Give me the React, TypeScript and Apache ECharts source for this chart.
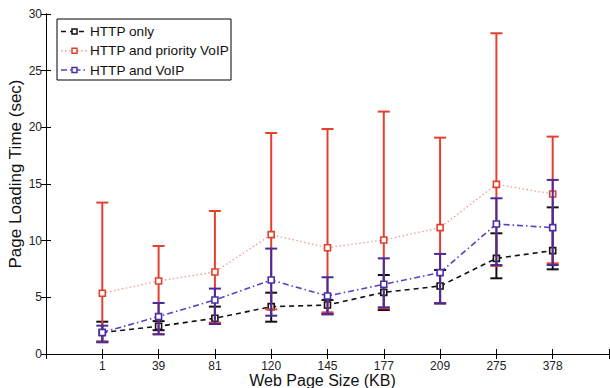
import React, { useEffect, useRef } from "react";
import * as echarts from "echarts";

const categories = ["1", "39", "81", "120", "145", "177", "209", "275", "378"];
const seriesNames = ["HTTP only", "HTTP and priority VoIP", "HTTP and VoIP"];

const httpOnly = [1.9, 2.45, 3.15, 4.18, 4.32, 5.44, 6.0, 8.44, 9.12];
const httpOnlyLow = [1.1, 2.1, 2.65, 2.85, 3.5, 3.88, 4.47, 6.68, 7.47];
const httpOnlyHigh = [2.85, 2.9, 4.18, 5.41, 4.77, 6.97, 7.41, 10.65, 12.94];

const priorityVoip = [5.36, 6.44, 7.24, 10.53, 9.38, 10.06, 11.15, 14.97, 14.12];
const priorityLow = [1.06, 1.74, 2.77, 3.94, 3.67, 4.03, 4.47, 7.77, 8.0];
const priorityHigh = [13.36, 9.53, 12.62, 19.5, 19.85, 21.39, 19.09, 28.3, 19.18];

const voip = [1.9, 3.3, 4.77, 6.53, 5.12, 6.15, 7.18, 11.47, 11.15];
const voipLow = [1.03, 1.74, 2.65, 3.38, 3.53, 4.12, 4.47, 7.85, 7.85];
const voipHigh = [2.5, 4.5, 5.77, 9.3, 6.77, 8.44, 8.83, 13.74, 15.36];

const FONT = "Liberation Sans, Arial, Helvetica, sans-serif";

const BLACK = "#111111";
const RED_ERR = "#e3402e";
const RED_LINE = "#f29a90";
const RED_MARK = "#e2402f";
const PURPLE_ERR = "#4a2a9c";
const PURPLE_LINE = "#5a40c8";
const PURPLE_MARK = "#4b2ea2";

function errorSeries(low: number[], high: number[], color: string, z: number) {
  return {
    type: "custom",
    z,
    silent: true,
    encode: { x: 0, y: [1, 2] },
    data: low.map((l, i) => [i + 1, l, high[i]]),
    renderItem: (_params: any, api: any) => {
      const x = api.value(0);
      const pLo = api.coord([x, api.value(1)]);
      const pHi = api.coord([x, api.value(2)]);
      const w = 6;
      const style = { stroke: color, lineWidth: 2 };
      return {
        type: "group",
        children: [
          { type: "line", shape: { x1: pHi[0], y1: pHi[1], x2: pLo[0], y2: pLo[1] }, style },
          { type: "line", shape: { x1: pHi[0] - w, y1: pHi[1], x2: pHi[0] + w, y2: pHi[1] }, style },
          { type: "line", shape: { x1: pLo[0] - w, y1: pLo[1], x2: pLo[0] + w, y2: pLo[1] }, style },
        ],
      };
    },
  };
}

function lineSeries(name: string, values: number[], lineColor: string, markColor: string, dash: number[], width: number, z: number) {
  return {
    type: "line",
    name,
    z,
    data: values.map((v, i) => [i + 1, v]),
    symbol: "rect",
    symbolSize: 6,
    itemStyle: { color: "#ffffff", borderColor: markColor, borderWidth: 1.6 },
    lineStyle: { color: lineColor, width, type: dash },
  };
}

function legendGraphic() {
  const rows = [
    { name: seriesNames[0], color: BLACK, mark: BLACK, dash: [5, 4] },
    { name: seriesNames[1], color: RED_LINE, mark: RED_MARK, dash: [1.5, 2.5] },
    { name: seriesNames[2], color: PURPLE_LINE, mark: PURPLE_MARK, dash: [6, 3, 1.5, 3] },
  ];
  const children: any[] = [
    { type: "rect", shape: { x: 57, y: 19, width: 174, height: 61 }, style: { fill: "#ffffff", stroke: "#000000", lineWidth: 1 } },
  ];
  rows.forEach((r, i) => {
    const y = 31.5 + i * 19.3;
    children.push({ type: "line", shape: { x1: 61, y1: y, x2: 88, y2: y }, style: { stroke: r.color, lineWidth: 1.5, lineDash: r.dash } });
    children.push({ type: "rect", shape: { x: 72, y: y - 2.5, width: 5, height: 5 }, style: { fill: "#ffffff", stroke: r.mark, lineWidth: 1.5 } });
    children.push({ type: "text", x: 90, y, style: { text: r.name, font: `13.6px ${FONT}`, fill: "#111111", verticalAlign: "middle", align: "left" } });
  });
  return [{ type: "group", z: 100, children }];
}

export default function App() {
  const ref = useRef<HTMLDivElement>(null);
  useEffect(() => {
    if (!ref.current) return;
    const chart = echarts.init(ref.current, undefined, { renderer: "svg" });
    const axisLine = { show: true, lineStyle: { color: "#000000", width: 1 } };
    const tick = { show: true, inside: true, length: 5, lineStyle: { color: "#000000", width: 1 } };
    chart.setOption({
      animation: false,
      backgroundColor: "#ffffff",
      textStyle: { fontFamily: FONT },
      grid: { left: 46, right: 1, top: 14, bottom: 34, containLabel: false, outerBoundsMode: "none" },
      xAxis: [
        {
          type: "value",
          min: 0,
          max: 10,
          interval: 1,
          position: "bottom",
          axisLine,
          axisTick: tick,
          splitLine: { show: false },
          axisLabel: {
            color: "#222222",
            fontSize: 12,
            lineHeight: 12,
            margin: 6,
            fontFamily: FONT,
            formatter: (v: number) => categories[v - 1] ?? "",
          },
          name: "Web Page Size (KB)",
          nameLocation: "middle",
          nameGap: 18,
          nameMoveOverlap: false,
          nameTextStyle: { color: "#111111", fontSize: 16, lineHeight: 16, fontFamily: FONT, padding: [0, 10, 0, 0] },
        },
        {
          type: "value",
          min: 0,
          max: 10,
          interval: 1,
          position: "top",
          axisLine,
          axisTick: tick,
          axisLabel: { show: false },
          splitLine: { show: false },
        },
      ],
      yAxis: [
        {
          type: "value",
          min: 0,
          max: 30,
          interval: 5,
          position: "left",
          axisLine,
          axisTick: tick,
          splitLine: { show: false },
          axisLabel: { color: "#222222", fontSize: 12, margin: 4, fontFamily: FONT },
          name: "Page Loading Time (sec)",
          nameLocation: "middle",
          nameRotate: 90,
          nameGap: 22,
          nameMoveOverlap: false,
          nameTextStyle: { color: "#111111", fontSize: 17, fontFamily: FONT, padding: [0, 0, 0, 20] },
        },
        {
          type: "value",
          min: 0,
          max: 30,
          interval: 5,
          position: "right",
          axisLine,
          axisTick: tick,
          axisLabel: { show: false },
          splitLine: { show: false },
        },
      ],
      series: [
        lineSeries(seriesNames[0], httpOnly, BLACK, BLACK, [5, 4], 1.6, 3),
        errorSeries(httpOnlyLow, httpOnlyHigh, BLACK, 2),
        lineSeries(seriesNames[1], priorityVoip, RED_LINE, RED_MARK, [1.5, 2.5], 1.3, 5),
        errorSeries(priorityLow, priorityHigh, RED_ERR, 4),
        lineSeries(seriesNames[2], voip, PURPLE_LINE, PURPLE_MARK, [6, 3, 1.5, 3], 1.6, 7),
        errorSeries(voipLow, voipHigh, PURPLE_ERR, 6),
      ],
      graphic: legendGraphic(),
    });
    return () => chart.dispose();
  }, []);
  return (
    <div
      ref={ref}
      style={{ position: "fixed", left: 0, top: 0, width: 610, height: 388, background: "#ffffff" }}
    />
  );
}
